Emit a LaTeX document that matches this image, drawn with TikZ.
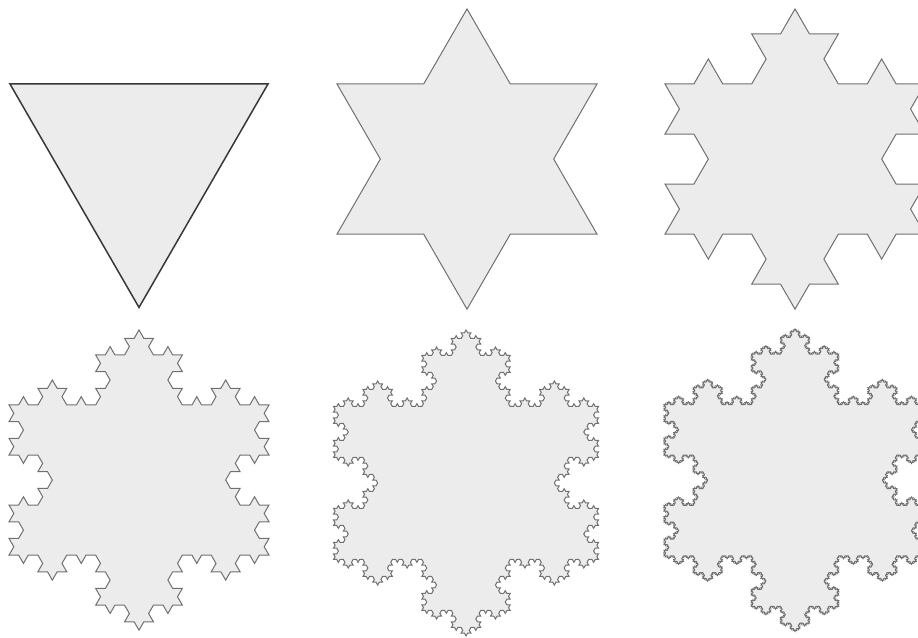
\documentclass[tikz,border=0pt]{standalone}
\usetikzlibrary{lindenmayersystems}
\pgfdeclarelindenmayersystem{kochsf}{\rule{F -> F+F--F+F}}
\definecolor{kochfill}{HTML}{ECECEC}
\definecolor{kochline}{HTML}{707070}
\definecolor{triline}{HTML}{383838}
\tikzset{
  flake/.style={fill=kochfill, draw=kochline, line width=1pt, line join=miter},
}
\begin{document}
\begin{tikzpicture}[x=1pt,y=1pt]
\useasboundingbox (0,0) rectangle (918,637);
\coordinate (s0) at (10,553);
\coordinate (s1) at (337,553);
\coordinate (s2) at (665,553);
\coordinate (s3) at (9,232);
\coordinate (s4) at (333.5,230.5);
\coordinate (s5) at (664,232.4);
\filldraw[flake, draw=triline, line width=1.5pt, shift={(s0)}, l-system={kochsf, axiom=F--F--F, order=0, step=258pt, angle=60}] lindenmayer system -- cycle;
\filldraw[flake, shift={(s1)}, l-system={kochsf, axiom=F--F--F, order=1, step=86.667pt, angle=60}] lindenmayer system -- cycle;
\filldraw[flake, shift={(s2)}, l-system={kochsf, axiom=F--F--F, order=2, step=28.889pt, angle=60}] lindenmayer system -- cycle;
\filldraw[flake, shift={(s3)}, l-system={kochsf, axiom=F--F--F, order=3, step=9.6296pt, angle=60}] lindenmayer system -- cycle;
\filldraw[flake, shift={(s4)}, l-system={kochsf, axiom=F--F--F, order=4, step=3.2716pt, angle=60}] lindenmayer system -- cycle;
\filldraw[flake, shift={(s5)}, l-system={kochsf, axiom=F--F--F, order=5, step=1.07819pt, angle=60}] lindenmayer system -- cycle;
\end{tikzpicture}
\end{document}
